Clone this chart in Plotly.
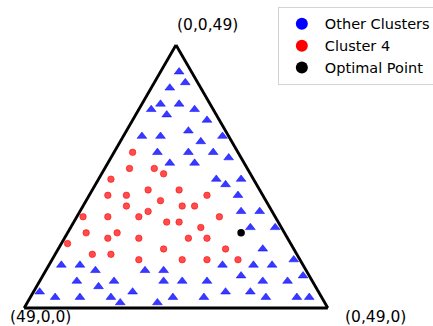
import plotly.graph_objects as go

# Compositions (first, second, third) on the simplex first + second + third = 49.
# first -> bottom-left corner, second -> bottom-right corner, third -> top corner.
other_first = [2, 2, 5, 8, 5, 10, 3, 8, 2, 14, 11, 1, 6, 5, 13, 8, 4, 2, 12, 8,
               6, 2, 5, 4, 5, 2, 5, 1, 5, 1, 39, 36, 13, 8, 5, 34, 26, 23, 11, 1,
               38, 32, 24, 21, 17, 8, 4, 35, 45, 30, 15, 11, 43, 39, 34, 24, 19, 9, 4, 2,
               33, 27]
other_second = [3, 5, 3, 3, 6, 2, 9, 5, 12, 3, 6, 16, 10, 13, 7, 12, 16, 19, 10, 14,
                19, 23, 21, 24, 26, 29, 29, 33, 33, 39, 2, 5, 28, 33, 36, 8, 16, 19, 32, 42,
                6, 12, 20, 23, 27, 36, 40, 10, 1, 16, 31, 35, 4, 8, 13, 23, 28, 38, 43, 45,
                15, 21]
other_third = [44, 42, 41, 38, 38, 37, 37, 36, 35, 32, 32, 32, 33, 31, 29, 29, 29, 28, 27, 27,
               24, 24, 23, 21, 18, 18, 15, 15, 11, 9, 8, 8, 8, 8, 8, 7, 7, 7, 6, 6,
               5, 5, 5, 5, 5, 5, 5, 4, 3, 3, 3, 3, 2, 2, 2, 2, 2, 2, 2, 2,
               1, 1]

c4_first = [17, 19, 15, 14, 23, 18, 13, 25, 22, 9, 17, 23, 14, 12, 20, 31, 27, 22, 9,
            18, 16, 13, 32, 27, 36, 29, 24, 16, 13, 21, 11, 33, 30, 26, 19, 15, 10]
c4_second = [3, 4, 8, 10, 2, 9, 14, 3, 6, 19, 12, 7, 16, 18, 11, 1, 5, 10, 23,
             15, 17, 21, 3, 8, 1, 7, 12, 20, 23, 17, 27, 6, 9, 14, 21, 25, 30]
c4_third = [29, 26, 26, 25, 24, 22, 22, 21, 21, 21, 20, 19, 19, 19, 18, 17, 17, 17, 17,
            16, 16, 15, 14, 14, 12, 13, 13, 13, 13, 11, 11, 10, 10, 9, 9, 9, 9]

opt_first = [7]
opt_second = [28]
opt_third = [14]

TOTAL = 49
corner_labels = ["(0,0,49)", "(49,0,0)", "(0,49,0)"]
legend_names = ["Other Clusters", "Cluster 4", "Optimal Point"]
legend_colors = ["blue", "red", "black"]

FONT = "DejaVu Sans"

fig = go.Figure()

# Ternary: a = top corner, b = bottom-left corner, c = bottom-right corner
fig.add_trace(go.Scatterternary(
    a=other_third, b=other_first, c=other_second, mode="markers",
    marker=dict(symbol="triangle-up", size=8.5, color="rgba(0,0,255,0.78)",
                line=dict(width=0.8, color="rgba(0,0,255,0.6)")),
    showlegend=False, hoverinfo="skip"))
fig.add_trace(go.Scatterternary(
    a=c4_third, b=c4_first, c=c4_second, mode="markers",
    marker=dict(symbol="circle", size=6.5, color="rgba(255,0,0,0.7)",
                line=dict(width=1, color="rgba(255,0,0,0.55)")),
    showlegend=False, hoverinfo="skip"))
fig.add_trace(go.Scatterternary(
    a=opt_third, b=opt_first, c=opt_second, mode="markers",
    marker=dict(symbol="circle", size=7.5, color="black"),
    showlegend=False, hoverinfo="skip"))

# Legend entries drawn as plain circles
for name, col in zip(legend_names, legend_colors):
    fig.add_trace(go.Scatterternary(
        a=[None], b=[None], c=[None], mode="markers", name=name,
        marker=dict(symbol="circle", size=7.5, color=col), legendgroup=name))

axis_style = dict(showgrid=False, showticklabels=False, ticks="", showline=True,
                  linecolor="black", linewidth=2.8, title=dict(text=""), min=0)

fig.update_layout(
    width=433, height=326,
    margin=dict(l=24, r=105, t=45, b=18, autoexpand=False),
    paper_bgcolor="white",
    font=dict(family=FONT, color="black"),
    ternary=dict(sum=TOTAL, bgcolor="white",
                 aaxis=axis_style, baxis=axis_style, caxis=axis_style),
    legend=dict(x=0.835, y=1.145, xanchor="left", yanchor="top",
                bgcolor="rgba(255,255,255,0.8)", bordercolor="#d3d3d3", borderwidth=1,
                font=dict(family=FONT, size=14.5, color="black"),
                tracegroupgap=0, itemsizing="constant", itemwidth=36),
    annotations=[
        dict(text=corner_labels[0], x=0.605, y=1.076, xref="paper", yref="paper",
             showarrow=False, xanchor="center", yanchor="middle",
             font=dict(family=FONT, size=15.5, color="black")),
        dict(text=corner_labels[1], x=0.054, y=-0.036, xref="paper", yref="paper",
             showarrow=False, xanchor="center", yanchor="middle",
             font=dict(family=FONT, size=15.5, color="black")),
        dict(text=corner_labels[2], x=1.155, y=-0.036, xref="paper", yref="paper",
             showarrow=False, xanchor="center", yanchor="middle",
             font=dict(family=FONT, size=15.5, color="black")),
    ],
)

fig.write_html("out.html")
